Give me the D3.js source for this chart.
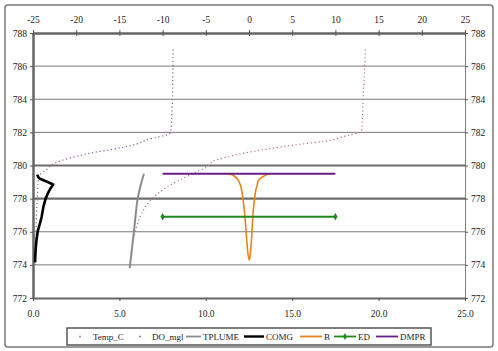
<!DOCTYPE html>
<html><head><meta charset="utf-8">
<script src="https://cdn.jsdelivr.net/npm/d3@7"></script>
<style>
body{margin:0;background:#fff;}
svg text{font-family:"Liberation Serif","Times New Roman",serif;fill:#222;}
</style></head>
<body><svg id="c" width="498" height="351"></svg>
<script>
// ---------- data ----------
const bottomTicks = [0, 5, 10, 15, 20, 25];
const topTicks = [-25, -20, -15, -10, -5, 0, 5, 10, 15, 20, 25];
const depthTicks = [772, 774, 776, 778, 780, 782, 784, 786, 788];

const tempDepth = [787.0, 786.0, 785.0, 784.0, 783.0, 782.05, 781.8, 781.45, 781.3, 780.95, 780.7, 780.5, 780.25, 780.0, 779.5, 778.7, 777.9, 776.9, 775.9, 774.9, 773.9];
const tempC     = [19.23, 19.2, 19.15, 19.1, 19.07, 19.0, 18.15, 16.8, 15.6, 13.3, 12.0, 11.2, 10.4, 10.2, 9.2, 7.75, 6.8, 6.2, 5.9, 5.7, 5.6];

const doDepth = [787.0, 786.0, 785.0, 784.0, 783.0, 782.1, 781.95, 781.55, 781.3, 780.95, 780.75, 780.6, 780.45, 780.15, 779.75, 779.45, 779.0, 778.0, 777.0, 776.0, 775.0, 773.9];
const doMgl   = [8.1, 8.1, 8.08, 8.07, 8.03, 7.97, 7.93, 6.58, 6.0, 4.46, 3.3, 2.72, 2.14, 1.27, 0.79, 0.41, 0.3, 0.25, 0.2, 0.18, 0.15, 0.12];

const tplumeDepth = [779.5, 779.0, 778.5, 778.0, 777.0, 776.0, 775.0, 774.2, 773.8];
const tplume      = [6.42, 6.28, 6.16, 6.06, 5.94, 5.84, 5.73, 5.64, 5.6];

const comgDepth = [779.45, 779.3, 779.2, 779.0, 778.85, 778.6, 778.3, 778.0, 777.5, 776.9, 776.5, 776.0, 775.5, 775.0, 774.5, 774.15];
const comg      = [0.25, 0.3, 0.4, 0.85, 1.17, 1.0, 0.85, 0.73, 0.6, 0.5, 0.4, 0.27, 0.2, 0.16, 0.13, 0.12];

const bDepth = [779.5, 779.4, 779.25, 779.1, 778.8, 778.5, 777.3, 776.3, 775.1, 774.6, 774.3, 774.6, 775.1, 776.3, 777.3, 778.5, 778.8, 779.1, 779.25, 779.4, 779.5];
const bVal   = [-2.4, -1.8, -1.45, -1.24, -0.98, -0.85, -0.54, -0.38, -0.2, -0.1, 0.03, 0.13, 0.23, 0.38, 0.5, 0.78, 0.95, 1.08, 1.4, 1.85, 2.43];

const edDepth = [776.9, 776.9];
const edVal   = [-10, 10];
const dmprDepth = [779.5, 779.5];
const dmprVal   = [-10, 10];

const seriesNames = ["Temp_C", "DO_mgl", "TPLUME", "COMG", "B", "ED", "DMPR"];
const seriesColors = ["#b86f80", "#8a5c9c", "#8c8c8c", "#000000", "#e8841e", "#1f8a1f", "#6a1d86"];

// ---------- layout ----------
const FONT = '"Liberation Serif", "Times New Roman", serif';
const svg = d3.select("#c");
const L = 33, R = 465, T = 33, B = 298;
const xBot = d3.scaleLinear().domain([0, 25]).range([L, R]);
const xTop = d3.scaleLinear().domain([-25, 25]).range([L, R]);
const y = d3.scaleLinear().domain([772, 788]).range([B, T]);

// outer frame
svg.append("rect").attr("x", 5).attr("y", 5).attr("width", 488).attr("height", 342)
  .attr("rx", 3).attr("fill", "#fff").attr("stroke", "#7a7a7a").attr("stroke-width", 1.5);

// gridlines
svg.append("g").selectAll("line").data(depthTicks.filter(d => d > 772 && d < 788)).join("line")
  .attr("x1", L).attr("x2", R).attr("y1", d => y(d)).attr("y2", d => y(d))
  .attr("stroke", d => (d === 780 || d === 778) ? "#6e6e6e" : "#7a7a7a")
  .attr("stroke-width", d => (d === 780 || d === 778) ? 2.2 : 1);

// axes
function styleAxis(g, w, col) {
  g.attr("font-family", null);
  g.select(".domain").attr("stroke", col).attr("stroke-width", w);
  g.selectAll(".tick line").attr("stroke", "#555");
  g.selectAll(".tick text").attr("font-size", 9.5).style("fill", "#222").style("font-family", FONT);
}
const gRight = svg.append("g").attr("transform", `translate(${R},0)`)
  .call(d3.axisRight(y).tickValues(depthTicks).tickSize(3).tickSizeOuter(0).tickPadding(3).tickFormat(d => d));
styleAxis(gRight, 1, "#808080");
const gBottom = svg.append("g").attr("transform", `translate(0,${B})`)
  .call(d3.axisBottom(xBot).tickValues(bottomTicks).tickSize(3).tickSizeOuter(0).tickPadding(9).tickFormat(d3.format(".1f")));
styleAxis(gBottom, 2.2, "#666");
const gLeft = svg.append("g").attr("transform", `translate(${L},0)`)
  .call(d3.axisLeft(y).tickValues(depthTicks).tickSize(3).tickSizeOuter(0).tickPadding(3).tickFormat(d => d));
styleAxis(gLeft, 2.5, "#666");
const gTop = svg.append("g").attr("transform", `translate(0,${T})`)
  .call(d3.axisTop(xTop).tickValues(topTicks).tickSize(3).tickSizeOuter(0).tickPadding(7).tickFormat(d => String(d)));
styleAxis(gTop, 2.5, "#666");
gTop.selectAll(".tick line").attr("y1", 3).attr("y2", -3);

// series
const zip = (ds, vs) => ds.map((d, i) => [vs[i], d]);
const lineBot = d3.line().x(d => xBot(d[0])).y(d => y(d[1]));
const lineTop = d3.line().x(d => xTop(d[0])).y(d => y(d[1]));
const plot = svg.append("g");

plot.append("path").datum(zip(tempDepth, tempC)).attr("d", lineBot.curve(d3.curveMonotoneY))
  .attr("fill", "none").attr("stroke", seriesColors[0]).attr("stroke-width", 1.2).attr("stroke-dasharray", "1.2,2.6");
plot.append("path").datum(zip(doDepth, doMgl)).attr("d", lineBot.curve(d3.curveMonotoneY))
  .attr("fill", "none").attr("stroke", seriesColors[1]).attr("stroke-width", 1.2).attr("stroke-dasharray", "1.2,2.6");
plot.append("path").datum(zip(tplumeDepth, tplume)).attr("d", lineBot.curve(d3.curveMonotoneY))
  .attr("fill", "none").attr("stroke", seriesColors[2]).attr("stroke-width", 2);
plot.append("path").datum(zip(comgDepth, comg)).attr("d", lineBot.curve(d3.curveLinear))
  .attr("fill", "none").attr("stroke", seriesColors[3]).attr("stroke-width", 2.6).attr("stroke-linejoin", "round");
plot.append("path").datum(zip(bDepth, bVal)).attr("d", lineTop.curve(d3.curveCatmullRom))
  .attr("fill", "none").attr("stroke", seriesColors[4]).attr("stroke-width", 1.6);
const edPts = zip(edDepth, edVal);
plot.append("path").datum(edPts).attr("d", lineTop.curve(d3.curveLinear))
  .attr("fill", "none").attr("stroke", seriesColors[5]).attr("stroke-width", 2);
plot.selectAll(".edm").data(edPts).join("path").attr("class", "edm")
  .attr("transform", d => `translate(${xTop(d[0])},${y(d[1])})`)
  .attr("d", d3.symbol(d3.symbolDiamond, 16)).attr("fill", seriesColors[5]);
plot.append("path").datum(zip(dmprDepth, dmprVal)).attr("d", lineTop.curve(d3.curveLinear))
  .attr("fill", "none").attr("stroke", seriesColors[6]).attr("stroke-width", 2);

// legend
const lg = svg.append("g");
lg.append("rect").attr("x", 67).attr("y", 328).attr("width", 364).attr("height", 17)
  .attr("fill", "#fff").attr("stroke", "#555").attr("stroke-width", 1.5);
const legendLayout = [
  {sym: "dot", sx: 80, tx: 93},
  {sym: "dot", sx: 140, tx: 152},
  {sym: "line", sx: 186, ex: 201, tx: 203},
  {sym: "line", sx: 244, ex: 264, tx: 266},
  {sym: "line", sx: 300, ex: 322, tx: 324},
  {sym: "mline", sx: 334, ex: 356, tx: 358},
  {sym: "line", sx: 376, ex: 398, tx: 400}
];
const ly = 336.5;
legendLayout.forEach((it, i) => {
  const c = seriesColors[i];
  if (it.sym === "dot") {
    lg.append("circle").attr("cx", it.sx).attr("cy", ly).attr("r", 0.9).attr("fill", c);
  } else {
    lg.append("line").attr("x1", it.sx).attr("x2", it.ex).attr("y1", ly).attr("y2", ly)
      .attr("stroke", c).attr("stroke-width", i === 3 ? 2.4 : 1.8);
    if (it.sym === "mline") {
      lg.append("path").attr("transform", `translate(${(it.sx + it.ex) / 2},${ly})`)
        .attr("d", d3.symbol(d3.symbolDiamond, 14)).attr("fill", c);
    }
  }
  lg.append("text").attr("x", it.tx).attr("y", ly + 3.2).attr("font-size", 9)
    .style("font-family", FONT).text(seriesNames[i]);
});
</script></body></html>
